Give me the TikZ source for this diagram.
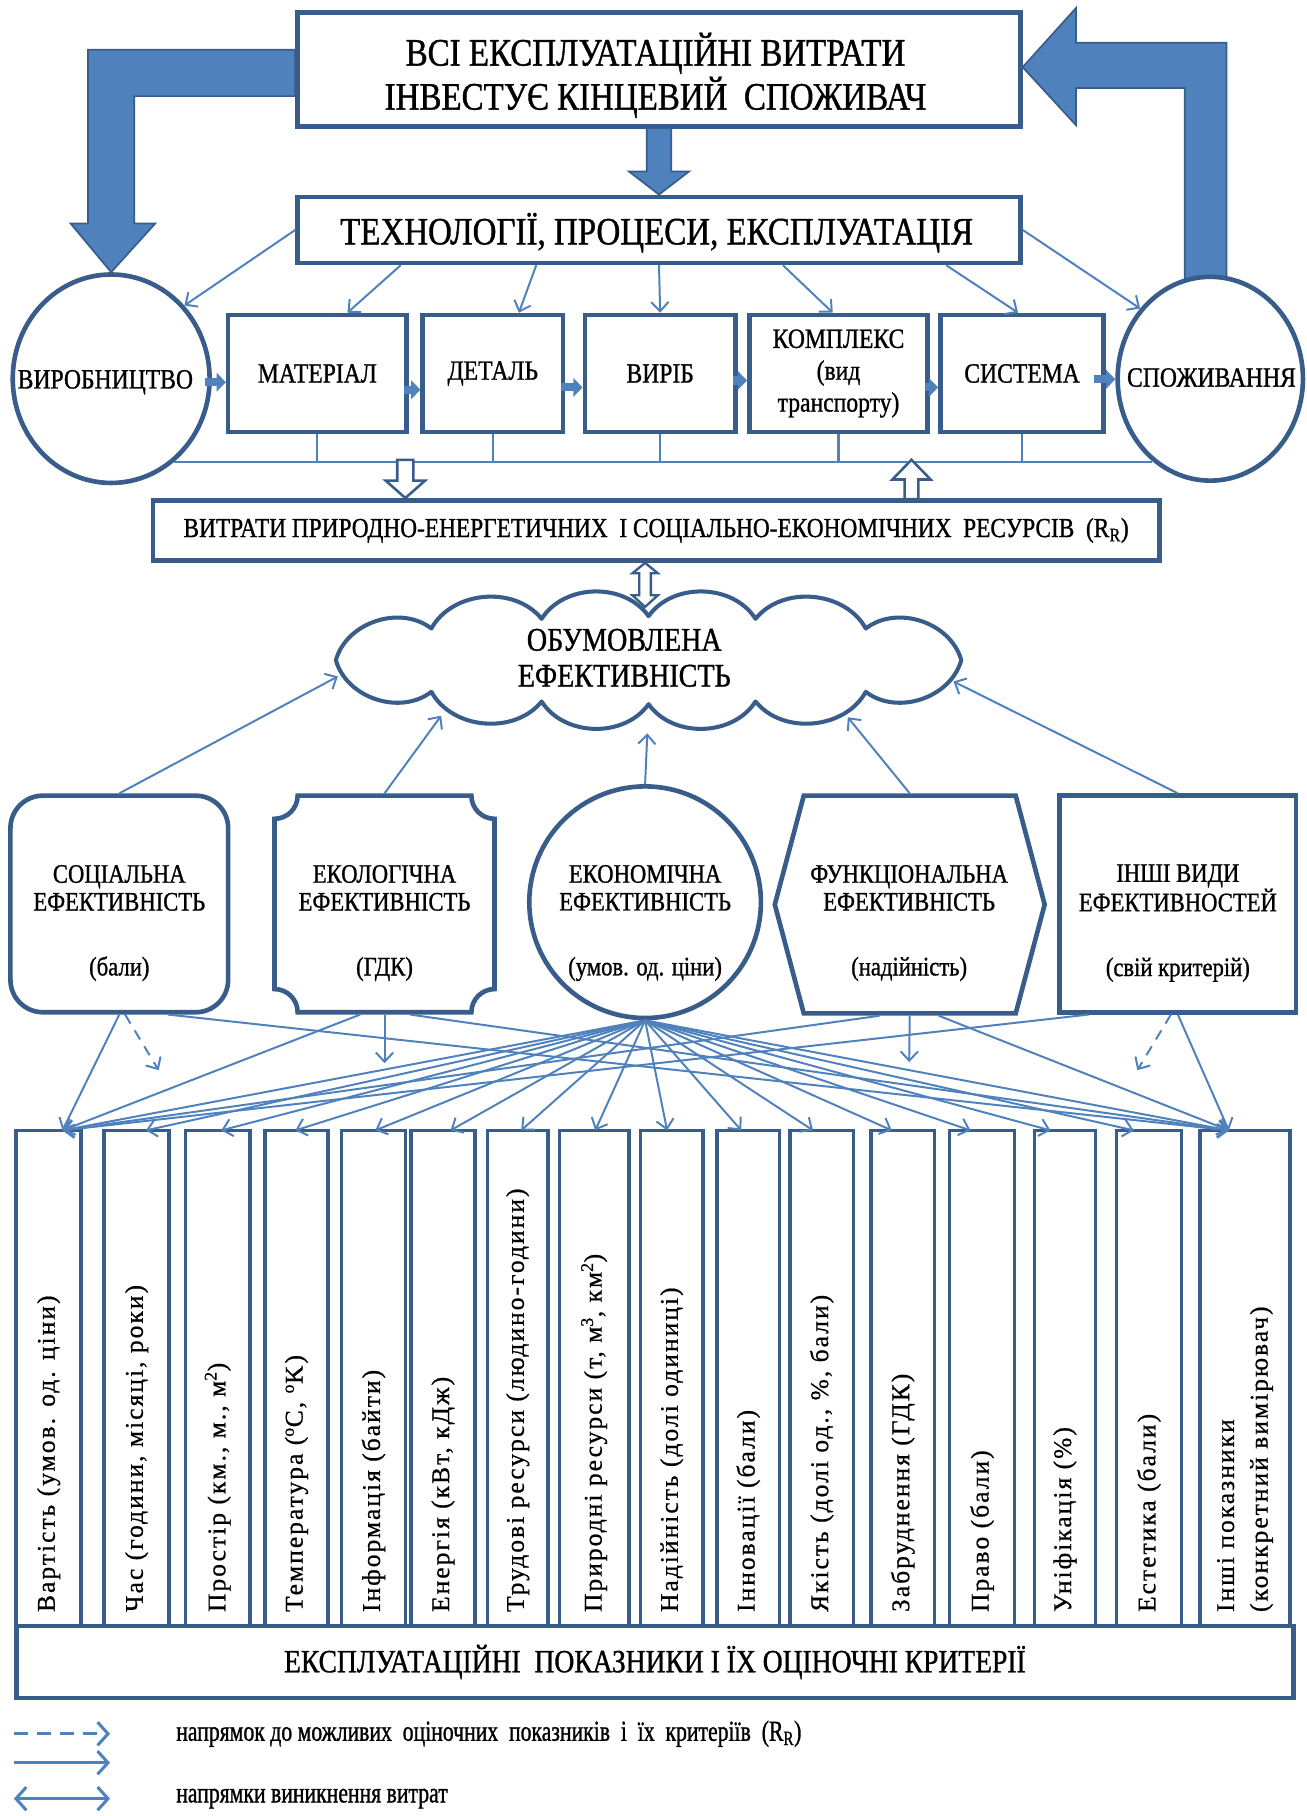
\documentclass[tikz,border=0pt]{standalone}
\usepackage{fontspec}
\setmainfont{Liberation Serif}
\newfontfamily\condserif[FakeStretch=0.85,FakeBold=1]{Liberation Serif}
\newfontfamily\narrowserif[FakeStretch=0.75,FakeBold=1]{Liberation Serif}
\newfontfamily\spacedserif[LetterSpace=8,FakeBold=0.7]{Liberation Serif}
\usetikzlibrary{arrows.meta,shapes.geometric,calc}
\pgfdeclarelayer{back}
\pgfsetlayers{back,main}
\definecolor{edge}{HTML}{385D8A}
\definecolor{flow}{HTML}{4F81BD}

% one indicator column: name, left x, right x, rotated label
\newcommand\indcol[4]{%
  \node[colbox, minimum width={(#3-#2)*1pt}, minimum height=430pt] (#1) at ({(#2+#3)/2},1191) {};
  \node[coltext, rotate=90, anchor=west] (#1t) at ({(#2+#3)/2},1392) {#4};%
}

\begin{document}
\begin{tikzpicture}[x=1pt, y=-1pt,
  frame/.style={draw=edge, line width=4pt, fill=white, inner sep=0pt, align=center},
  link/.style={draw=flow, line width=1.7pt, -{Straight Barb[length=8pt,width=15pt]}},
  maybe/.style={link, dash pattern=on 9pt off 7pt},
  bigarrow/.style={fill=flow, draw=edge, line width=1.5pt, line join=miter},
  hollow/.style={fill=white, draw=edge, line width=2.2pt, line join=miter},
  minor/.style={draw=flow, line width=7pt, -{Triangle[length=8pt,width=16pt]}},
  wire/.style={draw=flow, line width=1.8pt},
  colbox/.style={draw=edge, line width=3pt, fill=white, inner sep=0pt},
  coltext/.style={font=\spacedserif\fontsize{22}{29}\selectfont, inner sep=0pt, align=left},
  ttl/.style={font=\condserif\fontsize{33.5}{38}\selectfont, align=center, inner sep=0pt},
  rowtxt/.style={font=\condserif\fontsize{24}{27.5}\selectfont, align=center, inner sep=0pt},
  restxt/.style={font=\condserif\fontsize{23.7}{26}\selectfont},
  cloudtxt/.style={font=\condserif\fontsize{28.5}{31}\selectfont, align=center, inner sep=0pt},
  efftxt/.style={font=\condserif\fontsize{23}{24}\selectfont, align=center, inner sep=0pt},
  bottxt/.style={font=\condserif\fontsize{28}{30}\selectfont},
  legtxt/.style={font=\narrowserif\fontsize{25}{28}\selectfont, inner sep=0pt},
  legline/.style={draw=flow, line width=2.6pt},
  legtip/.style={legline, -{Straight Barb[length=9pt,width=20pt]}}
]
\useasboundingbox (0,0) rectangle (1128,1568);

% ---------- top part ----------
\node[frame, minimum width=624pt, minimum height=98pt] (top) at (569,60) {};
\node[ttl] (topT) at (566,65) {ВСІ ЕКСПЛУАТАЦІЙНІ ВИТРАТИ\\ІНВЕСТУЄ КІНЦЕВИЙ~~СПОЖИВАЧ};
\node[frame, minimum width=624pt, minimum height=57pt] (tech) at (569,198.5) {};
\node[ttl] (techT) at (567,201) {ТЕХНОЛОГІЇ, ПРОЦЕСИ, ЕКСПЛУАТАЦІЯ};

\node[frame, ellipse, minimum width=170pt, minimum height=180pt] (prod) at (96,327) {};
\node[rowtxt] (prodT) at (91,330) {ВИРОБНИЦТВО};
\node[frame, ellipse, minimum width=160pt, minimum height=176pt] (cons) at (1045,327) {};
\node[rowtxt] (consT) at (1046,326) {СПОЖИВАННЯ};

\node[frame, rowtxt, minimum width=154pt, minimum height=101pt] (mat) at (274,322.5) {МАТЕРІАЛ};
\node[frame, rowtxt, minimum width=121pt, minimum height=101pt] (det) at (425.5,322.5) {ДЕТАЛЬ};
\node[frame, rowtxt, minimum width=130pt, minimum height=101pt] (vyr) at (570,322.5) {ВИРІБ};
\node[frame, rowtxt, minimum width=154pt, minimum height=101pt] (kom) at (724,322.5) {КОМПЛЕКС\\(вид\\транспорту)};
\node[frame, rowtxt, minimum width=141pt, minimum height=101pt] (sys) at (882.5,322.5) {СИСТЕМА};

\node[frame, restxt, minimum width=869pt, minimum height=52pt] (res) at (566.5,458)
  {ВИТРАТИ ПРИРОДНО-ЕНЕРГЕТИЧНИХ~~І СОЦІАЛЬНО-ЕКОНОМІЧНИХ~~РЕСУРСІВ~~(R\textsubscript{R})};

\coordinate (busL) at (prod.-53);

\begin{pgfonlayer}{back}
  \fill[white] (0,0) rectangle (1128,1568);
  % wide block arrows
  \draw[bigarrow] ([yshift=17pt]top.west) -- (76,43) -- (76,193) -- (61,193) -- (prod.north)
    -- (134,193) -- (116,193) -- (116,83) -- ([yshift=-23pt]top.west) -- cycle;
  \draw[bigarrow] ([yshift=2pt]top.east) -- (929,7) -- (929,37) -- (1059,37)
    -- ([xshift=14pt,yshift=-14pt]cons.north) -- ([xshift=-22pt,yshift=-14pt]cons.north)
    -- (1023,76) -- (929,76) -- (929,108) -- cycle;
  \draw[bigarrow] (558.5,110) -- (558.5,148) -- (543,148) -- (tech.north) -- (595,148)
    -- (579.5,148) -- (579.5,110) -- cycle;
  % collecting line under the chain
  \draw[wire] (busL) -- (busL -| cons.235);
  \foreach \n in {mat,det,vyr,kom,sys} \draw[wire] (\n.south) -- (\n.south |- busL);
\end{pgfonlayer}

% technology arrows
\draw[link] (tech.west) -- (prod.45);
\draw[link] ([xshift=-223pt]tech.south) -- ([xshift=26pt]mat.north);
\draw[link] ([xshift=-106pt]tech.south) -- ([xshift=22.5pt]det.north);
\draw[link] (tech.south) -- (vyr.north);
\draw[link] ([xshift=107pt]tech.south) -- ([xshift=-5pt]kom.north);
\draw[link] ([xshift=248pt]tech.south) -- ([xshift=-3.5pt]sys.north);
\draw[link] (tech.east) -- (cons.135);

% chain arrows
\draw[minor] ([xshift=-6pt,yshift=-3pt]prod.east) -- ([yshift=-3pt]prod.east -| mat.west);
\draw[minor] ([xshift=-4pt,yshift=-14pt]mat.east) -- ([yshift=-14pt]det.west);
\draw[minor] ([xshift=-4pt,yshift=-12pt]det.east) -- ([yshift=-12pt]vyr.west);
\draw[minor] ([xshift=-4pt,yshift=-6pt]vyr.east) -- ([yshift=-6pt]vyr.east -| kom.west);
\draw[minor] ([xshift=-4pt,yshift=-12pt]kom.east) -- ([yshift=-12pt]sys.west);
\draw[minor] ([xshift=-10pt,yshift=-5pt]sys.east) -- ([yshift=-5pt]sys.east -| cons.west);

% hollow arrows between the line and the resources box
\draw[hollow] (343,397) -- (343,415) -- (333,415) -- ([xshift=-216.5pt]res.north) -- (367,415) -- (357,415) -- (357,397) -- cycle;
\draw[hollow] (781,431) -- (781,414) -- (770.5,414) -- (787,397) -- (803.5,414) -- (793,414) -- (793,431) -- cycle;

% ---------- cloud ----------
\node[ellipse, minimum width=550pt, minimum height=126pt, inner sep=0pt] (cloud) at (560,570) {};
\foreach \t [count=\k] in {0,46,70,90,110,134,180,226,250,270,290,314}
  \coordinate (cp\k) at ({560+270*cos(\t)},{570+38*sin(\t)});
\draw[draw=edge, line width=3.5pt, fill=white, line join=round]
  (cp1) \foreach \k in {2,...,12} { to[bend left=56] (cp\k) } to[bend left=56] (cp1) -- cycle;
\node[cloudtxt] (cloudT) at (539,568) {ОБУМОВЛЕНА\\ЕФЕКТИВНІСТЬ};
\draw[hollow, line width=2pt] ([xshift=-9.5pt]res.south) -- (568,495) -- (562,495) -- (562,514) -- (568,514)
  -- (557,524) -- (546,514) -- (552,514) -- (552,495) -- (546,495) -- cycle;

% ---------- kinds of efficiency ----------
\node[frame, rounded corners=28pt, minimum width=188pt, minimum height=187pt] (social) at (103,780.5) {};
\node[minimum width=190pt, minimum height=187pt, inner sep=0pt, outer sep=2pt] (eco) at (332,780.5) {};
\draw[draw=edge, line width=4pt, fill=white]
  (257,687) -- (407,687) .. controls (407,698) and (416,707) .. (427,707)
  -- (427,854) .. controls (416,854) and (407,863) .. (407,874)
  -- (257,874) .. controls (257,863) and (248,854) .. (237,854)
  -- (237,707) .. controls (248,707) and (257,698) .. (257,687) -- cycle;
\node[frame, circle, minimum size=200pt] (econ) at (557,779) {};
\node[minimum width=233pt, minimum height=188pt, inner sep=0pt, outer sep=2pt] (fun) at (785.5,781) {};
\draw[draw=edge, line width=4pt, fill=white, line join=miter]
  (694,687) -- (877,687) -- (902,781) -- (877,875) -- (694,875) -- (669,781) -- cycle;
\node[frame, minimum width=204pt, minimum height=187pt] (other) at (1017,780.5) {};

\node[efftxt] (socialT) at (103,797) {СОЦІАЛЬНА\\ЕФЕКТИВНІСТЬ\\[32pt](бали)};
\node[efftxt] (ecoT) at (332,797) {ЕКОЛОГІЧНА\\ЕФЕКТИВНІСТЬ\\[32pt](ГДК)};
\node[efftxt] (econT) at (557,797) {ЕКОНОМІЧНА\\ЕФЕКТИВНІСТЬ\\[32pt](умов. од. ціни)};
\node[efftxt] (funT) at (785,797) {ФУНКЦІОНАЛЬНА\\ЕФЕКТИВНІСТЬ\\[32pt](надійність)};
\node[efftxt] (otherT) at (1017,797) {ІНШІ ВИДИ\\ЕФЕКТИВНОСТЕЙ\\[32pt](свій критерій)};

% arrows into the cloud
\draw[link] (social.north) -- (cloud.183);
\draw[link] (eco.north) -- (cloud.195);
\draw[link] (econ.north) -- (cloud.269);
\draw[link] (fun.north) -- (cloud.344);
\draw[link] (other.north) -- (cloud.356);

% ---------- indicator columns ----------
\indcol{c1}{14}{70}{Вартість (умов. од. ціни)}
\indcol{c2}{90}{146}{Час (години, місяці, роки)}
\indcol{c3}{160}{216}{Простір (км., м., м\textsuperscript{2})}
\indcol{c4}{229}{283}{Температура (\textsuperscript{o}C, \textsuperscript{o}K)}
\indcol{c5}{295}{350}{Інформація (байти)}
\indcol{c6}{355}{410}{Енергія (кВт, кДж)}
\indcol{c7}{421}{473}{Трудові ресурси (людино-години)}
\indcol{c8}{483}{543}{Природні ресурси (т, м\textsuperscript{3}, км\textsuperscript{2})}
\indcol{c9}{553}{607}{Надійність (долі одиниці)}
\indcol{c10}{619}{673}{Інновації (бали)}
\indcol{c11}{682}{737}{Якість (долі од., \%, бали)}
\indcol{c12}{752}{807}{Забруднення (ГДК)}
\indcol{c13}{820}{876}{Право (бали)}
\indcol{c14}{893}{946}{Уніфікація (\%)}
\indcol{c15}{964}{1020}{Естетика (бали)}
\indcol{c16}{1036}{1114}{Інші показники\\(конкретний вимірювач)}

\node[frame, bottxt, minimum width=1103pt, minimum height=62pt] (base) at (565.5,1435)
  {ЕКСПЛУАТАЦІЙНІ~~ПОКАЗНИКИ І ЇХ ОЦІНОЧНІ КРИТЕРІЇ};

% landing points on the column tops
\foreach \i/\x in {1/54,2/126,3/191,4/255,5/324,6/389,7/450,8/514,9/576,10/640,
                   11/702,12/770,13/838,14/907,15/979,16/1061}
  \coordinate (t\i) at (\x,976);
\coordinate (dS) at (137,924);
\coordinate (dE) at (332,918);
\coordinate (dF) at (785,917);
\coordinate (dO) at (982,924);

% fan of the economic efficiency
\foreach \i in {1,...,16} \draw[link] (econ.south) -- (t\i);
% the other kinds
\draw[link] (social.south) -- (t1);
\draw[link] ([xshift=42pt]social.south) -- (t16);
\draw[maybe] ([xshift=5pt]social.south) -- (dS);
\draw[link] ([xshift=-21pt]eco.south) -- (t1);
\draw[link] ([xshift=22pt]eco.south) -- (t16);
\draw[link] (eco.south) -- (dE);
\draw[link] ([xshift=-26pt]fun.south) -- (t1);
\draw[link] ([xshift=25pt]fun.south) -- (t16);
\draw[link] (fun.south) -- (dF);
\draw[link] ([xshift=-77pt]other.south) -- (t1);
\draw[link] (other.south) -- (t16);
\draw[maybe] ([xshift=-6pt]other.south) -- (dO);

% ---------- legend ----------
\coordinate (l1a) at (12,1497); \coordinate (l1b) at (95,1497);
\coordinate (l2a) at (12,1522); \coordinate (l2b) at (95,1522);
\coordinate (l3a) at (12,1553); \coordinate (l3b) at (95,1553);
\draw[legtip, dash pattern=on 12pt off 8pt] (l1a) -- (l1b);
\draw[legtip] (l2a) -- (l2b);
\draw[legline, {Straight Barb[length=9pt,width=20pt]}-{Straight Barb[length=9pt,width=20pt]}] (l3a) -- (l3b);
\node[legtxt, anchor=west] (l1t) at (152,1497)
  {напрямок до можливих~~оціночних~~показників~~і~~їх~~критеріїв~~(R\textsubscript{R})};
\node[legtxt, anchor=west] (l3t) at (152,1553) {напрямки виникнення витрат};
\end{tikzpicture}
\end{document}
